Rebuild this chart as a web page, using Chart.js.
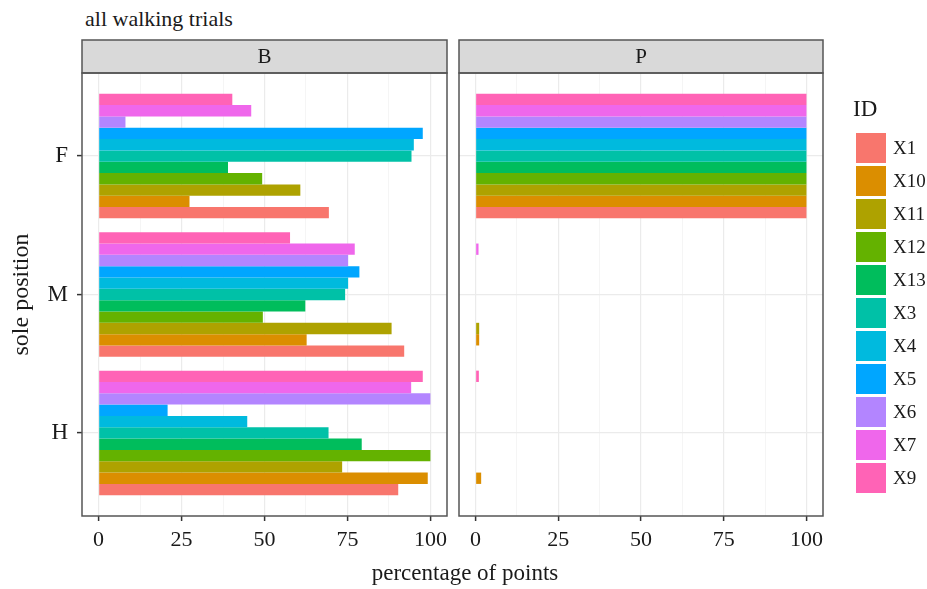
<!DOCTYPE html>
<html>
<head>
<meta charset="utf-8">
<script src="https://cdn.jsdelivr.net/npm/chart.js@4.4.1/dist/chart.umd.min.js"></script>
<style>
    body { margin: 0; background: #fff; }
    #wrap { position: relative; width: 927px; height: 589px; overflow: hidden;
            font-family: "Liberation Serif", "Times New Roman", serif; color: #1a1a1a; }
    canvas { position: absolute; top: 0; }
    #title { position: absolute; left: 85px; top: 8px; font-size: 22px; line-height: 1; }
    #xtitle { position: absolute; left: 265px; width: 400px; top: 561px; font-size: 23px;
              line-height: 1; text-align: center; }
    #legend { position: absolute; left: 853px; top: 97px; }
    #legend .ltitle { font-size: 23px; line-height: 1; height: 34px; }
    #legend .item { display: flex; align-items: center; height: 33px; }
    #legend .key { width: 30px; height: 30px; margin: 0 7px 0 3px; }
    #legend .lab { font-size: 19px; line-height: 1; }
</style>
</head>
<body>
<div id="wrap">
    <div id="title">all walking trials</div>
    <canvas id="chartB" width="456" height="589" style="left:0"></canvas>
    <canvas id="chartP" width="475" height="589" style="left:452px"></canvas>
    <div id="xtitle">percentage of points</div>
    <div id="legend"></div>
</div>
<script>
var solePositions = ['F', 'M', 'H'];
var ids    = ['X1', 'X10', 'X11', 'X12', 'X13', 'X3', 'X4', 'X5', 'X6', 'X7', 'X9'];
var colors = ['#F8766D', '#DB8E00', '#AEA200', '#64B200', '#00BD5C', '#00C1A7',
              '#00BADE', '#00A6FF', '#B385FF', '#EF67EB', '#FF63B6'];
var xTicks = [0, 25, 50, 75, 100];
var xMinorTicks = [12.5, 37.5, 62.5, 87.5];

// percentage of points, one value per ID (same order as ids)
var bFront  = [69.4, 27.4, 60.8, 49.3, 39.0, 94.3, 95.0, 97.7, 8.1, 46.0, 40.3];
var bMiddle = [92.1, 62.7, 88.3, 49.5, 62.3, 74.3, 75.2, 78.6, 75.2, 77.2, 57.7];
var bHeel   = [90.3, 99.2, 73.4, 100, 79.3, 69.3, 44.8, 20.8, 100, 94.2, 97.7];
var pFront  = [100, 100, 100, 100, 100, 100, 100, 100, 100, 100, 100];
var pMiddle = [0, 1.1, 1.1, 0, 0, 0, 0, 0, 0, 0.9, 0];
var pHeel   = [0, 1.7, 0, 0, 0, 0, 0, 0, 0, 0, 1.0];

Chart.defaults.font.family = '"Liberation Serif", "Times New Roman", serif';
Chart.defaults.color = '#1a1a1a';

var panelFrame = {
    id: 'panelFrame',
    beforeDraw: function (chart, args, opts) {
        var a = chart.chartArea, ctx = chart.ctx;
        ctx.save();
        ctx.fillStyle = '#d9d9d9';
        ctx.fillRect(a.left, 40, a.right - a.left, a.top - 40);
        ctx.fillStyle = '#1a1a1a';
        ctx.font = '21px "Liberation Serif", serif';
        ctx.textAlign = 'center';
        ctx.textBaseline = 'middle';
        ctx.fillText(opts.label, (a.left + a.right) / 2, (40 + a.top) / 2 + 1);
        ctx.restore();
    },
    afterDraw: function (chart) {
        var a = chart.chartArea, ctx = chart.ctx;
        ctx.save();
        ctx.strokeStyle = '#555555';
        ctx.lineWidth = 1.5;
        ctx.strokeRect(a.left, 40, a.right - a.left, a.top - 40);
        ctx.strokeRect(a.left, a.top, a.right - a.left, a.bottom - a.top);
        ctx.restore();
    }
};

function makeDatasets(front, middle, heel) {
    var sets = [];
    // last ID first so that X1 ends up at the bottom of each group
    for (var i = ids.length - 1; i >= 0; i--) {
        sets.push({
            label: ids[i],
            data: [{x: front[i], y: 0}, {x: middle[i], y: 1}, {x: heel[i], y: 2}],
            backgroundColor: colors[i],
            borderWidth: 0,
            categoryPercentage: 0.9,
            barPercentage: 1.0
        });
    }
    return sets;
}

function createPanel(canvasId, label, datasets, showY, padding) {
    var ctx = document.getElementById(canvasId).getContext('2d');
    return new Chart(ctx, {
        type: 'bar',
        data: { datasets: datasets },
        options: {
            indexAxis: 'y',
            responsive: false,
            animation: false,
            layout: { padding: padding },
            plugins: {
                legend: { display: false },
                tooltip: { enabled: false },
                panelFrame: { label: label }
            },
            scales: {
                x: {
                    type: 'linear',
                    min: -5,
                    max: 105,
                    afterBuildTicks: function (scale) {
                        scale.ticks = xTicks.concat(xMinorTicks).sort(function (a, b) { return a - b; })
                            .map(function (v) { return {value: v}; });
                    },
                    afterFit: function (scale) { scale.height = 73; },
                    ticks: {
                        autoSkip: false,
                        maxRotation: 0,
                        padding: 6,
                        font: { size: 22 },
                        color: '#1a1a1a',
                        callback: function (v) { return xTicks.indexOf(v) >= 0 ? String(v) : ''; }
                    },
                    grid: {
                        color: function (c) { return xTicks.indexOf(c.tick.value) >= 0 ? '#ebebeb' : '#f3f3f3'; },
                        lineWidth: function (c) { return xTicks.indexOf(c.tick.value) >= 0 ? 1.2 : 0.8; },
                        tickColor: function (c) { return xTicks.indexOf(c.tick.value) >= 0 ? '#333333' : 'rgba(0,0,0,0)'; },
                        tickLength: 5,
                        tickWidth: 1.5
                    },
                    border: { display: false }
                },
                y: {
                    type: 'linear',
                    reverse: true,
                    offset: false,
                    min: -0.6,
                    max: 2.6,
                    afterBuildTicks: function (scale) {
                        scale.ticks = solePositions.map(function (s, i) { return {value: i}; });
                    },
                    afterFit: function (scale) { scale.width = showY ? 82 : 0; },
                    title: {
                        display: showY,
                        text: 'sole position',
                        font: { size: 24 },
                        color: '#1a1a1a',
                        padding: { top: 7, bottom: 0 }
                    },
                    ticks: {
                        display: showY,
                        autoSkip: false,
                        padding: 9,
                        font: { size: 23 },
                        color: '#1a1a1a',
                        callback: function (v) { return solePositions[v]; }
                    },
                    grid: {
                        offset: false,
                        color: '#ebebeb',
                        lineWidth: 1.2,
                        drawTicks: showY,
                        tickColor: '#333333',
                        tickLength: 5,
                        tickWidth: 1.5
                    },
                    border: { display: false }
                }
            }
        },
        plugins: [panelFrame]
    });
}

createPanel('chartB', 'B', makeDatasets(bFront, bMiddle, bHeel), true,
    { top: 73, right: 9, bottom: 0, left: 0 });
createPanel('chartP', 'P', makeDatasets(pFront, pMiddle, pHeel), false,
    { top: 73, right: 104, bottom: 0, left: 7 });

function buildLegend() {
    var legendDiv = document.getElementById('legend');
    var html = '<div class="ltitle">ID</div>';
    for (var i = 0; i < ids.length; i++) {
        html += '<div class="item"><div class="key" style="background:' + colors[i] + '"></div>' +
                '<div class="lab">' + ids[i] + '</div></div>';
    }
    legendDiv.innerHTML = html;
}
buildLegend();
</script>
</body>
</html>
